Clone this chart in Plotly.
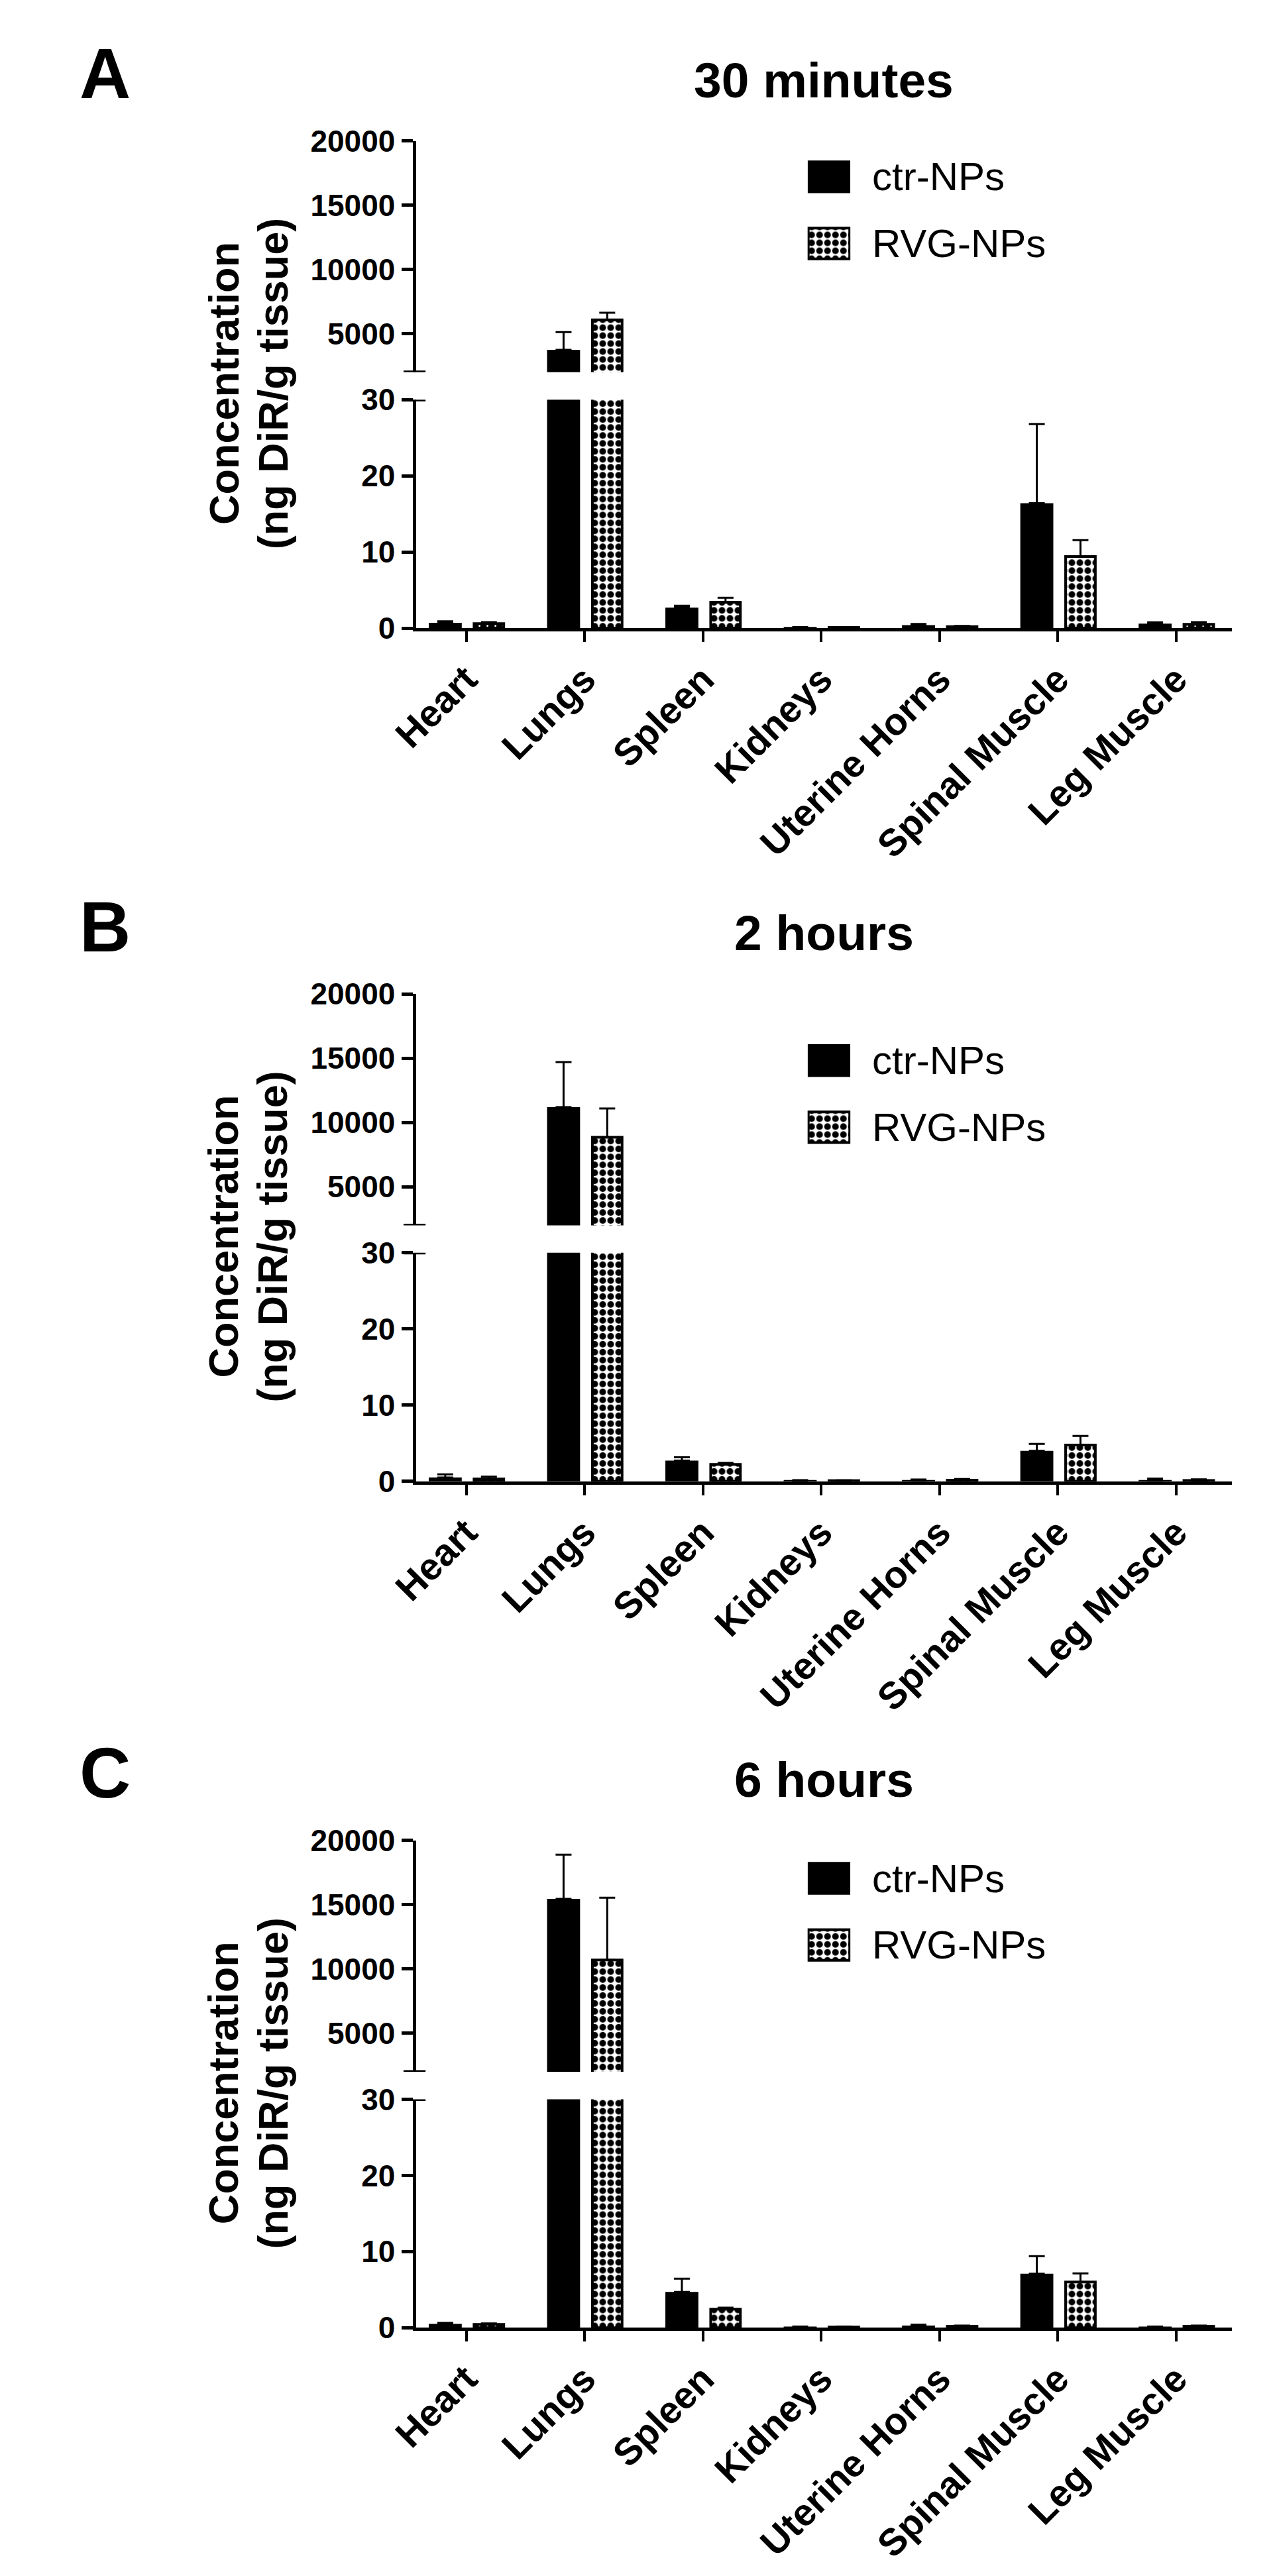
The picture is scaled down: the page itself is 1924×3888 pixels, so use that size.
import plotly.graph_objects as go

W, H = 1924, 3888
PAGE_MARGIN = 8  # default <body> margin of the written html page
FONT = "Liberation Sans, Arial, sans-serif"

organs = ["Heart", "Lungs", "Spleen", "Kidneys", "Uterine Horns", "Spinal Muscle", "Leg Muscle"]
series = ["ctr-NPs", "RVG-NPs"]
panel_titles = ["30 minutes", "2 hours", "6 hours"]
panel_letters = ["A", "B", "C"]
y_title = ["Concentration", "(ng DiR/g tissue)"]

# mean concentration (ng DiR / g tissue) and upper error (SD)
ctr_30min = [0.7, 3740, 2.7, 0.1, 0.4, 16.4, 0.6]
ctr_30min_err = [0.2, 1380, 0.25, 0.05, 0.15, 10.4, 0.17]
rvg_30min = [0.6, 6070, 3.4, 0.1, 0.2, 9.4, 0.5]
rvg_30min_err = [0.2, 560, 0.6, 0.05, 0.1, 2.15, 0.3]

ctr_2h = [0.5, 11200, 2.7, 0.1, 0.15, 4.0, 0.15]
ctr_2h_err = [0.4, 3500, 0.45, 0.05, 0.08, 0.9, 0.2]
rvg_2h = [0.3, 8850, 2.2, 0.08, 0.15, 4.75, 0.1]
rvg_2h_err = [0.3, 2240, 0.2, 0.04, 0.15, 1.2, 0.15]

ctr_6h = [0.5, 15450, 4.7, 0.12, 0.3, 7.1, 0.1]
ctr_6h_err = [0.13, 3450, 1.75, 0.05, 0.1, 2.3, 0.05]
rvg_6h = [0.45, 10700, 2.45, 0.1, 0.2, 6.0, 0.2]
rvg_6h_err = [0.13, 4850, 0.2, 0.05, 0.08, 1.15, 0.08]

panels = [
    (ctr_30min, ctr_30min_err, rvg_30min, rvg_30min_err),
    (ctr_2h, ctr_2h_err, rvg_2h, rvg_2h_err),
    (ctr_6h, ctr_6h_err, rvg_6h, rvg_6h_err),
]

upper_ticks = [5000, 10000, 15000, 20000]
lower_ticks = [0, 10, 20, 30]

# vertical pixel offsets of the three panels
axis_off = [0, 1305, 2600]
legend_off = [0, 1352, 2603]


def fx(px):
    return (px - PAGE_MARGIN) / W


def fy(px):
    return 1 - (px - PAGE_MARGIN) / H


def err(vals):
    return dict(type="data", symmetric=False, array=vals, arrayminus=[0] * len(vals),
                color="black", thickness=3, width=12)


ctr_marker = dict(color="black", line=dict(color="black", width=0))
rvg_marker = dict(color="white", line=dict(color="black", width=4),
                  pattern=dict(shape=".", fgcolor="black", bgcolor="white",
                               size=12, solidity=0.55, fillmode="replace"))

fig = go.Figure()
layout = {}
annotations = []
shapes = []

for p, (ctr, ctr_e, rvg, rvg_e) in enumerate(panels):
    o = axis_off[p]
    lo, up, lg = 3 * p + 1, 3 * p + 2, 3 * p + 3
    xd = [fx(597), fx(1857)]

    for k in (lo, up):
        xs = "x" if k == 1 else f"x{k}"
        ys = "y" if k == 1 else f"y{k}"
        fig.add_trace(go.Bar(x=organs, y=ctr, name=series[0], xaxis=xs, yaxis=ys,
                             offset=-0.317, width=0.279, marker=ctr_marker,
                             error_y=err(ctr_e), showlegend=False))
        fig.add_trace(go.Bar(x=organs, y=rvg, name=series[1], xaxis=xs, yaxis=ys,
                             offset=0.066, width=0.251, marker=rvg_marker,
                             error_y=err(rvg_e), showlegend=False))

    common_y = dict(showline=True, linewidth=5, linecolor="black", ticks="outside",
                    ticklen=17, tickwidth=5, tickcolor="black", showgrid=False,
                    zeroline=False, tickfont=dict(family=FONT, size=46, color="black", weight="bold"))
    layout[f"xaxis{lo}"] = dict(domain=xd, anchor=f"y{lo}", range=[-0.426, 6.47],
                                showline=True, linewidth=5, linecolor="black",
                                ticks="outside", ticklen=16, tickwidth=4, tickcolor="black",
                                tickangle=-45, showgrid=False, zeroline=False,
                                tickfont=dict(family=FONT, size=57, color="black", weight="bold"))
    layout[f"yaxis{lo}"] = dict(domain=[fy(934.5 + o), fy(585 + o)], anchor=f"x{lo}",
                                range=[0, 30], tickvals=lower_ticks, **common_y)
    layout[f"xaxis{up}"] = dict(domain=xd, anchor=f"y{up}", matches=f"x{lo}" if lo > 1 else "x",
                                visible=False)
    layout[f"yaxis{up}"] = dict(domain=[fy(543 + o), fy(189 + o)], anchor=f"x{up}",
                                range=[2000, 20000], tickvals=upper_ticks, tickformat="d", **common_y)

    # axis break marks
    for yv, k in ((2000, up), (30, lo)):
        shapes.append(dict(type="line", xref="paper", yref=f"y{k}",
                           x0=fx(578), x1=fx(612), y0=yv, y1=yv,
                           line=dict(color="black", width=5)))

    # legend swatches drawn as bars on a hidden mini axis
    lo_l = legend_off[p]
    layout[f"xaxis{lg}"] = dict(domain=[fx(1202), fx(1268)], anchor=f"y{lg}",
                                range=[0, 1], visible=False)
    layout[f"yaxis{lg}"] = dict(domain=[fy(397 + lo_l), fy(193 + lo_l)], anchor=f"x{lg}",
                                type="category", categoryorder="array",
                                categoryarray=[series[1], series[0]],
                                range=[-0.5, 1.5], visible=False)
    fig.add_trace(go.Bar(y=[series[0]], x=[1], orientation="h", width=0.49,
                         xaxis=f"x{lg}", yaxis=f"y{lg}", marker=ctr_marker,
                         showlegend=False, hoverinfo="skip"))
    fig.add_trace(go.Bar(y=[series[1]], x=[0.97], base=[0.015], orientation="h", width=0.46,
                         xaxis=f"x{lg}", yaxis=f"y{lg}", marker=rvg_marker,
                         showlegend=False, hoverinfo="skip"))
    for i, name in enumerate(series):
        annotations.append(dict(text=name, xref="paper", yref="paper",
                                x=fx(1300), y=fy(244 + 102 * i + lo_l),
                                xanchor="left", yanchor="middle", showarrow=False,
                                font=dict(family=FONT, size=60, color="black")))

    # panel title and letter
    annotations.append(dict(text=panel_titles[p], xref="paper", yref="paper",
                            x=fx(1227), y=fy(96 + o), xanchor="center", yanchor="middle",
                            showarrow=False,
                            font=dict(family=FONT, size=75, color="black", weight="bold")))
    annotations.append(dict(text=panel_letters[p], xref="paper", yref="paper",
                            x=fx(117), y=fy(86 + o), xanchor="center", yanchor="middle",
                            showarrow=False,
                            font=dict(family=FONT, size=107, color="black", weight="bold")))

    # y-axis title, two lines
    for i, line in enumerate(y_title):
        annotations.append(dict(text=line, xref="paper", yref="paper",
                                x=fx(300 + 76 * i), y=fy(560 + o), xanchor="center",
                                yanchor="middle", textangle=-90, showarrow=False,
                                font=dict(family=FONT, size=63, color="black", weight="bold")))

fig.update_layout(
    width=W, height=H,
    margin=dict(l=0, r=0, t=0, b=0),
    paper_bgcolor="white", plot_bgcolor="white",
    barmode="overlay",
    showlegend=False,
    annotations=annotations,
    shapes=shapes,
    **layout,
)

fig.write_html("out.html")
